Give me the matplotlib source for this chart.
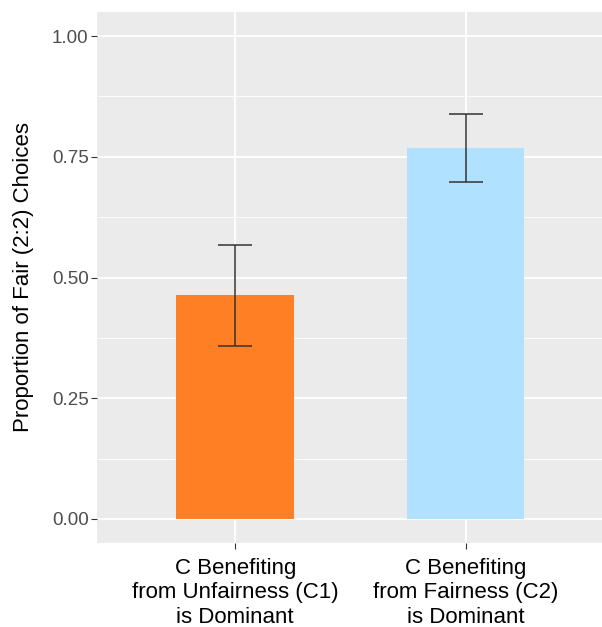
import matplotlib
matplotlib.use("Agg")
import matplotlib.pyplot as plt
from matplotlib.ticker import MultipleLocator

categories = ["C Benefiting\nfrom Unfairness (C1)\nis Dominant",
              "C Benefiting\nfrom Fairness (C2)\nis Dominant"]
values = [0.463, 0.768]
err_low = [0.358, 0.697]
err_high = [0.568, 0.838]
colors = ["#FF7F24", "#B0E2FF"]
yticks = [0.0, 0.25, 0.5, 0.75, 1.0]
ytick_labels = ["0.00", "0.25", "0.50", "0.75", "1.00"]

plt.rcParams['font.family'] = ['Liberation Sans', 'DejaVu Sans']

fig = plt.figure(figsize=(6.02, 6.27), dpi=100)
ax = fig.add_axes([97/602, 84/627, 1 - 97/602, (543-12)/627])
ax.set_facecolor("#EBEBEB")

x = [1, 2]
ax.set_xlim(0.4, 2.592)
ax.set_ylim(-0.05, 1.05)

# grid
ax.set_yticks(yticks)
ax.set_yticklabels(ytick_labels)
ax.yaxis.set_minor_locator(MultipleLocator(0.125))
ax.set_xticks(x)
ax.set_xticklabels(categories)
ax.grid(which="major", color="white", linewidth=1.3)
ax.grid(which="minor", axis="y", color="white", linewidth=0.6)
ax.set_axisbelow(True)

ax.bar(x, values, width=0.51, color=colors, zorder=2)
yerr = [[v - l for v, l in zip(values, err_low)], [h - v for v, h in zip(values, err_high)]]
ax.errorbar(x, values, yerr=yerr, fmt="none", ecolor="#333333", elinewidth=1.1,
            capsize=12, capthick=1.1, zorder=3)

for s in ax.spines.values():
    s.set_visible(False)

ax.tick_params(axis="y", which="major", length=4, color="#333333", width=0.8,
               labelsize=13.5, labelcolor="#4D4D4D", pad=2)
ax.tick_params(axis="y", which="minor", length=0)
ax.tick_params(axis="x", which="major", length=4, color="#333333", width=0.8,
               labelsize=16, labelcolor="black", pad=7)
for lbl in ax.get_xticklabels():
    lbl.set_linespacing(1.2)

ax.set_ylabel("Proportion of Fair (2:2) Choices", fontsize=16, color="black", labelpad=13)

fig.savefig("out.png", dpi=100)
